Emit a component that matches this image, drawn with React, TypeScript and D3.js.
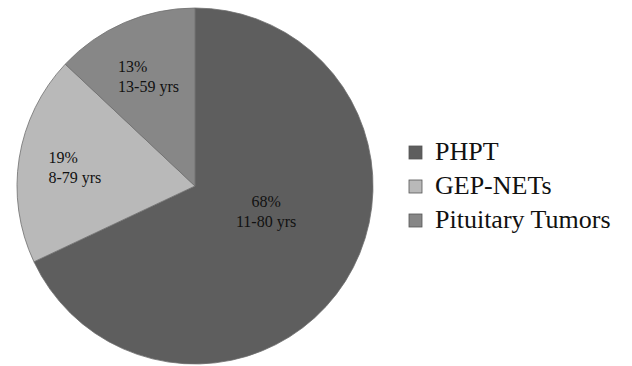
import React from "react";
import * as d3 from "d3";

const categories = ["PHPT", "GEP-NETs", "Pituitary Tumors"];
const percents = [68, 19, 13];
const ageRanges = ["11-80 yrs", "8-79 yrs", "13-59 yrs"];
const colors = ["#5e5e5e", "#b9b9b9", "#878787"];

// label placement style: angle shift (deg), radius fraction, anchor
const labelStyle = [
  { shift: -12.4, frac: 0.425, anchor: "middle" },
  { shift: -2, frac: 0.83, anchor: "start" },
  { shift: -11.8, frac: 0.75, anchor: "start" },
];

const W = 632;
const H = 366;
const cx = 195;
const cy = 186;
const R = 178;
const SERIF = '"Liberation Serif", "Times New Roman", Times, serif';

export default function App() {
  const data = categories.map((c, i) => ({ cat: c, value: percents[i], age: ageRanges[i], color: colors[i] }));
  const pie = d3.pie<any>().value((d) => d.value).sort(null);
  const arcs = pie(data);
  const arcGen = d3.arc<any>().innerRadius(0).outerRadius(R);

  const legendX = 409;
  const legendY0 = 160;
  const legendStep = 34;

  return (
    <svg width={W} height={H} style={{ position: "absolute", left: 0, top: 0, background: "#fff" }}>
      <rect width={W} height={H} fill="#fff" />
      <g transform={`translate(${cx},${cy})`}>
        {arcs.map((a, i) => (
          <path key={i} d={arcGen(a) || ""} fill={a.data.color} stroke="#6f6f6f" strokeWidth={0.8} />
        ))}
        {arcs.map((a, i) => {
          const st = labelStyle[i];
          const mid = (a.startAngle + a.endAngle) / 2 + (st.shift * Math.PI) / 180;
          const r = R * st.frac;
          const x = r * Math.sin(mid);
          const y = -r * Math.cos(mid);
          const ts = { fontFamily: SERIF, fontSize: "16px" };
          return (
            <g key={"l" + i} fill="#111">
              <text x={x} y={y - 5} textAnchor={st.anchor} style={ts}>{`${a.data.value}%`}</text>
              <text x={x} y={y + 15} textAnchor={st.anchor} style={ts}>{a.data.age}</text>
            </g>
          );
        })}
      </g>
      <g fill="#111">
        {data.map((d, i) => (
          <g key={"lg" + i} transform={`translate(${legendX},${legendY0 + i * legendStep})`}>
            <rect x={0} y={-14} width={13} height={13} fill={d.color} stroke="#555" strokeWidth={0.8} />
            <text x={26} y={0} style={{ fontFamily: SERIF, fontSize: "26px" }}>{d.cat}</text>
          </g>
        ))}
      </g>
    </svg>
  );
}
